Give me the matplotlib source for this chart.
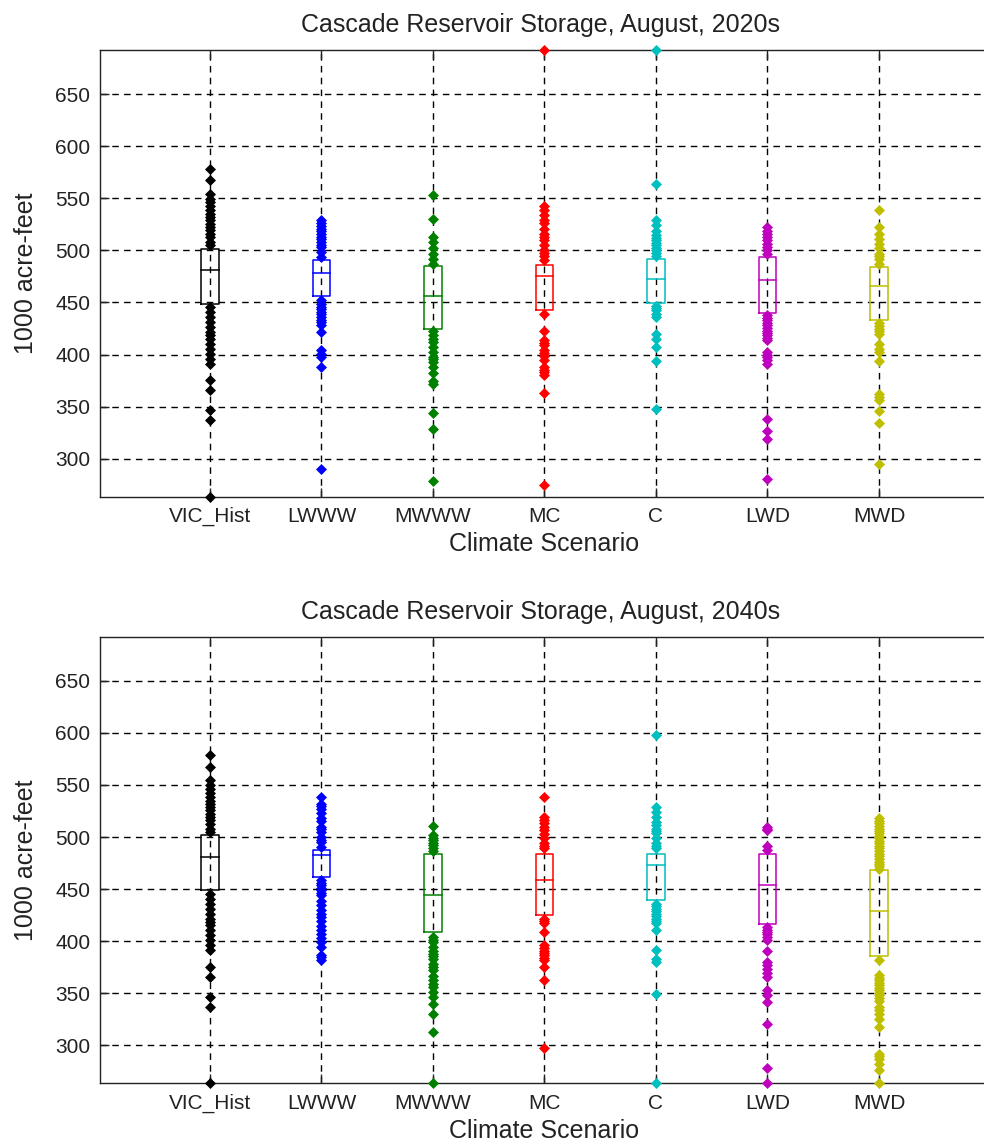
import matplotlib.pyplot as plt

plt.rcParams['font.family'] = ['Liberation Sans', 'DejaVu Sans']

categories = ['VIC_Hist', 'LWWW', 'MWWW', 'MC', 'C', 'LWD', 'MWD']
colors = ['k', 'b', (0, 0.5, 0), 'r', (0, 0.75, 0.75), (0.75, 0, 0.75), (0.75, 0.75, 0)]
yticks = [300, 350, 400, 450, 500, 550, 600, 650]
y_lo, y_hi = 263.5, 692.3

# historical run, same in both periods
vic_hist = [578.6, 567.4, 554.6, 549.8, 546.6, 542.5, 538.5, 535.0, 532.1, 528.9, 525.7, 522.5,
            519.3, 516.1, 512.9, 508.1, 504.9, 445.7, 440.9, 436.1, 431.3, 426.5, 421.7, 418.5,
            415.3, 410.4, 405.7, 400.9, 396.0, 391.3, 375.2, 365.6, 346.4, 336.8, 263.5]

# 2020s
lwww_2020 = [529, 526, 523.5, 521, 518.5, 516, 513, 510.5, 508, 505.5, 503, 498.5, 494, 452, 449,
             446, 443.5, 441, 438.5, 436, 433.5, 431, 428, 422, 404, 401, 398, 388, 290]
mwww_2020 = [553, 530, 513, 508, 502, 497, 492, 487, 423, 418.5, 415, 412, 407, 402, 398, 395.5,
             393, 388, 382, 375, 372, 344, 329, 279]
mc_2020 = [692.3, 543, 538.5, 534, 529, 526, 521, 516, 513, 510, 505, 500, 497.5, 495, 490.5, 439,
           423, 414, 411.5, 409, 404, 401.5, 399, 394.5, 388, 385.5, 383, 380, 363, 275]
c_2020 = [692.3, 563.5, 529, 524, 519, 514.5, 512, 510, 507.5, 505, 502.5, 500, 497.5, 495, 447,
          444.5, 442.5, 439, 436, 420, 415, 407, 393.5, 348]
lwd_2020 = [522.5, 519, 516, 513, 510, 506.5, 503, 500, 497, 438, 435.5, 433, 430.5, 428, 425.5,
            423, 420.5, 418.5, 416, 414, 402.5, 400, 397.6, 394.5, 391, 338, 327, 319, 281]
mwd_2020 = [538.5, 522.5, 516, 511, 506.5, 502, 497, 494.5, 492, 487, 430, 427.5, 425, 422.5, 420,
            410.5, 405.7, 402.5, 393.5, 362, 359, 356, 346, 334, 295]
q1_2020 = [448.9, 455.9, 424.2, 442.5, 449.8, 439.9, 432.9]
med_2020 = [480.9, 478.7, 455.9, 475.1, 472.9, 471.3, 465.5]
q3_2020 = [501.7, 490.5, 484.8, 486.4, 492.1, 493.7, 484.1]

# 2040s
lwww_2040 = [538.6, 532, 529.5, 527, 522.6, 518, 515, 510, 507.5, 505, 500, 497.5, 495, 490.6,
             458.5, 456, 453.7, 451.5, 449, 446.5, 444, 439, 434.5, 429.7, 426.5, 423, 419, 415,
             411, 407, 403, 399, 394.5, 386.5, 384.5, 382.3]
mwww_2040 = [510.4, 502, 499.5, 497, 494.5, 492, 489.5, 487, 404, 401.5, 399, 394.5, 391, 388, 385.5,
             383, 378.5, 375, 372, 367, 362.5, 359, 356, 351, 346, 340, 330, 313, 263.5]
mc_2040 = [538, 519.4, 516, 513, 510, 506.5, 503, 498.6, 494, 491.5, 489, 421.7, 419.5, 417, 409,
           396, 393.5, 391, 388.5, 386.5, 384, 381.7, 375, 363, 297.4]
c_2040 = [597.8, 529, 524, 519.4, 514.6, 511.5, 508, 505.5, 503.4, 498.6, 494, 491.5, 489, 436, 433.5,
          431, 428.5, 426.5, 424, 421.7, 419, 417, 410.5, 392, 383, 380, 349.6, 263.5]
lwd_2040 = [510, 508, 506.6, 491, 487.3, 413.7, 411, 409, 406.5, 404, 401, 391, 380, 377, 373.7, 369,
            365.7, 352.8, 348, 341.6, 320.8, 278.5, 263.5]
mwd_2040 = [517.8, 515.5, 513, 510.5, 508, 505.5, 503.4, 501, 498.6, 496, 494, 491.5, 489, 486.5, 484,
            481.5, 479, 476.5, 474.5, 472, 469.7, 381.7, 367.3, 364.9, 362.5, 360, 357.6, 355.2,
            352.8, 350.4, 348, 345.5, 343, 336.8, 333.5, 330.4, 325.6, 317.6, 292, 289.5, 287, 282.4,
            276, 263.5]
q1_2040 = [448.9, 461.7, 408.9, 424.9, 439.9, 416.9, 385.8]
med_2040 = [480.9, 482.5, 444.1, 459.2, 472.9, 453.7, 428.7]
q3_2040 = [501.7, 488.0, 484.1, 484.1, 484.1, 484.1, 468.1]


def plot_panel(ax, title, series, q1, med, q3):
    half = 0.078
    for i, vals in enumerate(series):
        x = i + 1
        col = colors[i]
        ax.plot([x] * len(vals), vals, linestyle='none', marker='D', markersize=5.0,
                color=col, markeredgewidth=0.5, clip_on=False, zorder=3)
        ax.plot([x - half, x + half, x + half, x - half, x - half],
                [q1[i], q1[i], q3[i], q3[i], q1[i]], color=col, lw=1.1, zorder=4)
        ax.plot([x - half, x + half], [med[i], med[i]], color=col, lw=1.1, zorder=4)

    ax.set_xlim(0.0135, 8.085)
    ax.set_ylim(y_lo, y_hi)
    ax.set_xticks(range(1, len(categories) + 1))
    ax.set_xticklabels(categories)
    ax.set_yticks(yticks)
    ax.set_axisbelow(True)
    ax.grid(True, color='k', linestyle=(0, (4.7, 3.8)), linewidth=1.0)
    ax.tick_params(axis='both', direction='in', length=6.5, width=1.0, top=True, right=True,
                   labelsize=15, colors='#222222')
    ax.tick_params(axis='x', pad=7.5)
    ax.tick_params(axis='y', pad=7)
    for sp in ax.spines.values():
        sp.set_linewidth(1.0)
        sp.set_color('#222222')
    t = ax.set_title(title, fontsize=18, pad=13, color='#222222')
    t.set_x(0.49)
    ax.set_xlabel('Climate Scenario', fontsize=18, labelpad=4, color='#222222')
    ax.xaxis.label.set_x(0.494)
    ax.set_ylabel('1000 acre-feet', fontsize=18, labelpad=12, color='#222222')


fig = plt.figure(figsize=(9.84, 11.43), dpi=100)
ax1 = fig.add_axes([0.1016, 0.5654, 0.9146, 0.3908])
ax2 = fig.add_axes([0.1016, 0.0522, 0.9146, 0.3907])

plot_panel(ax1, 'Cascade Reservoir Storage, August, 2020s',
           [vic_hist, lwww_2020, mwww_2020, mc_2020, c_2020, lwd_2020, mwd_2020],
           q1_2020, med_2020, q3_2020)
plot_panel(ax2, 'Cascade Reservoir Storage, August, 2040s',
           [vic_hist, lwww_2040, mwww_2040, mc_2040, c_2040, lwd_2040, mwd_2040],
           q1_2040, med_2040, q3_2040)

fig.savefig('out.png', dpi=100)
